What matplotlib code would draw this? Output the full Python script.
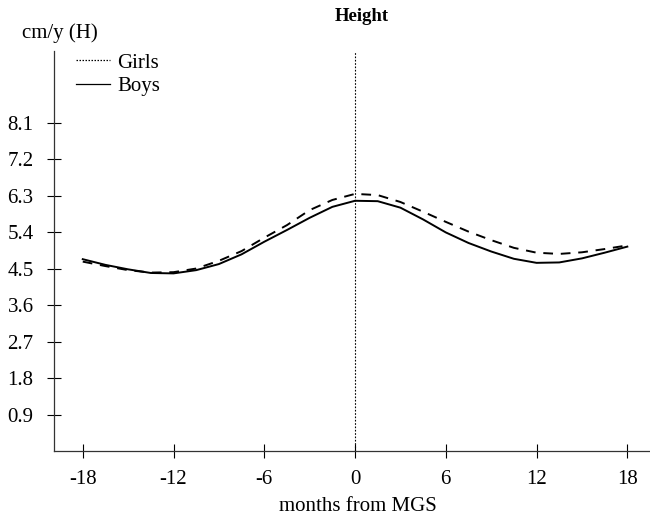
import numpy as np
import matplotlib
matplotlib.use("Agg")
from matplotlib import pyplot as plt
from matplotlib.lines import Line2D

# data
months = [-18, -16.5, -15, -13.5, -12, -10.5, -9, -7.5, -6, -4.5, -3, -1.5, 0,
          1.5, 3, 4.5, 6, 7.5, 9, 10.5, 12, 13.5, 15, 16.5, 18]
boys = [4.74, 4.60, 4.49, 4.40, 4.39, 4.47, 4.62, 4.86, 5.17, 5.46, 5.76, 6.03, 6.18,
        6.17, 6.01, 5.72, 5.40, 5.14, 4.93, 4.75, 4.65, 4.66, 4.76, 4.90, 5.05]
girls = [4.68, 4.57, 4.47, 4.41, 4.42, 4.51, 4.70, 4.94, 5.27, 5.58, 5.95, 6.20, 6.35,
         6.32, 6.15, 5.91, 5.66, 5.42, 5.21, 5.02, 4.90, 4.87, 4.91, 4.99, 5.08]
x_ticks = [-18, -12, -6, 0, 6, 12, 18]
y_ticks = [0.9, 1.8, 2.7, 3.6, 4.5, 5.4, 6.3, 7.2, 8.1]

plt.rcParams['font.family'] = ['Liberation Serif', 'DejaVu Serif']
FS = 15

fig = plt.figure(figsize=(6.5, 5.17), dpi=100)
ax = fig.add_axes([0.0838, 0.1267, 0.9162, 0.7753])

ax.plot(months, girls, color='black', lw=1.4, linestyle=(0, (5, 4)))
ax.plot(months, boys, color='black', lw=1.4)
ax.axvline(0, color='black', lw=0.8, linestyle=(0, (1.5, 1.5)))

ax.set_xlim(-19.87, 19.5)
ax.set_ylim(0, 9.88)
ax.set_xticks(x_ticks)
ax.set_xticklabels([str(t) for t in x_ticks])
ax.set_yticks(y_ticks)
ax.set_yticklabels([f"{t:.1f}" for t in y_ticks])
ax.tick_params(direction='inout', length=10, width=0.8, labelsize=FS)
ax.tick_params(axis='y', pad=10)
ax.tick_params(axis='x', pad=8)
ax.spines['top'].set_visible(False)
ax.spines['right'].set_visible(False)
for s in ['left', 'bottom']:
    ax.spines[s].set_linewidth(0.9)
    ax.spines[s].set_color('#333333')

fig.text(0.551, 0.012, 'months from MGS', ha='center', va='baseline', fontsize=FS)
fig.text(0.557, 0.968, 'Height', ha='center', va='center', fontsize=13.5, fontweight='bold')
fig.text(0.034, 0.936, 'cm/y (H)', ha='left', va='center', fontsize=FS)

handles = [Line2D([], [], color='black', lw=0.9, linestyle=(0, (1.2, 1.2))),
           Line2D([], [], color='black', lw=0.9)]
ax.legend(handles, ['Girls', 'Boys'], loc='upper left', bbox_to_anchor=(0.015, 1.025),
          frameon=False, fontsize=FS, handlelength=1.65, handletextpad=0.35,
          labelspacing=0.2, borderaxespad=0.2)

fig.savefig('out.png', dpi=100)
